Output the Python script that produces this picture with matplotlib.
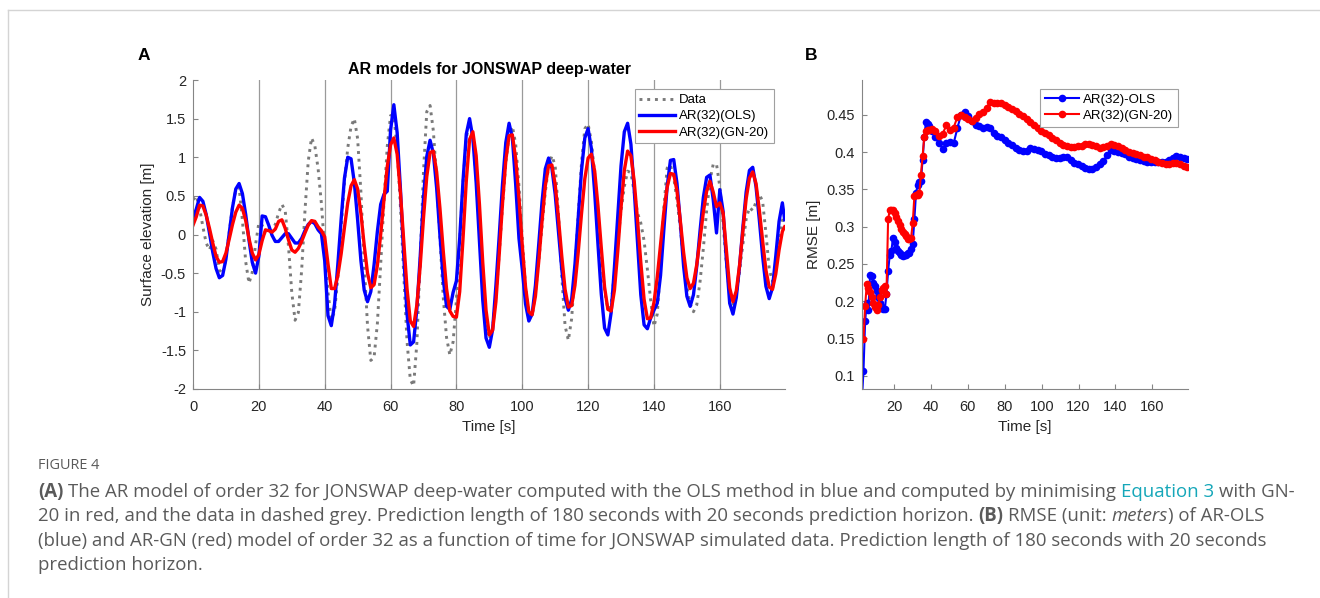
import numpy as np
import matplotlib
matplotlib.use("Agg")
import matplotlib.pyplot as plt
from matplotlib import font_manager
from matplotlib.lines import Line2D
from matplotlib.ticker import FormatStrFormatter, MultipleLocator

W, H = 1320, 598

# ---- panel A: surface elevation (1 s samples, last point at 179.7 s)
time_a = np.append(np.arange(0, 180), 179.7)

data_a = [
    0.45, 0.50, 0.34, 0.10, -0.11, -0.20, -0.08, -0.19, -0.46, -0.51,
    -0.31, 0.02, 0.36, 0.58, 0.61, 0.19, -0.35, -0.63, -0.49, -0.13,
    0.15, 0.12, 0.02, 0.01, 0.06, 0.13, 0.28, 0.39, 0.31, -0.15,
    -0.75, -1.11, -1.01, -0.46, 0.30, 0.95, 1.25, 1.15, 0.85, 0.40,
    -0.20, -0.75, -1.10, -1.00, -0.55, 0.10, 0.68, 1.12, 1.40, 1.50,
    1.24, 0.55, -0.37, -1.18, -1.63, -1.59, -1.15, -0.39, 0.42, 1.14,
    1.54, 1.54, 1.11, 0.36, -0.52, -1.38, -1.88, -1.96, -1.40, -0.33,
    0.81, 1.59, 1.67, 1.34, 0.72, -0.04, -0.81, -1.33, -1.56, -1.39,
    -0.85, -0.10, 0.67, 1.25, 1.45, 1.26, 0.75, 0.05, -0.65, -1.16,
    -1.35, -1.21, -0.81, -0.25, 0.36, 0.92, 1.29, 1.40, 1.17, 0.63,
    -0.05, -0.68, -1.05, -1.05, -0.75, -0.35, 0.10, 0.55, 0.88, 1.02,
    0.89, 0.26, -0.54, -1.18, -1.37, -1.09, -0.47, 0.26, 0.93, 1.37,
    1.43, 1.20, 0.78, 0.26, -0.29, -0.72, -0.97, -0.90, -0.50, -0.10,
    0.30, 0.62, 0.82, 0.80, 0.55, 0.28, 0.15, -0.08, -0.45, -0.85,
    -1.19, -1.03, -0.42, 0.34, 0.86, 0.90, 0.74, 0.44, 0.08, -0.31,
    -0.67, -0.90, -1.00, -0.91, -0.61, -0.18, 0.31, 0.70, 0.91, 0.91,
    0.62, 0.14, -0.38, -0.77, -0.90, -0.78, -0.48, -0.13, 0.20, 0.35,
    0.31, 0.42, 0.52, 0.43, 0.02, -0.44, -0.61, -0.44, -0.11, 0.18,
    0.25,
]

ols_a = [
    0.21, 0.33, 0.48, 0.43, 0.26, 0.02, -0.23, -0.44, -0.56, -0.53,
    -0.32, 0.01, 0.35, 0.59, 0.66, 0.53, 0.26, -0.07, -0.36, -0.50,
    -0.28, 0.24, 0.23, 0.12, -0.01, -0.09, -0.09, -0.04, 0.01, 0.01,
    -0.05, -0.11, -0.11, -0.05, 0.05, 0.13, 0.17, 0.14, 0.06, 0.01,
    -0.34, -1.05, -1.18, -0.90, -0.38, 0.20, 0.73, 1.00, 0.98, 0.67,
    0.19, -0.34, -0.72, -0.87, -0.74, -0.39, 0.04, 0.39, 0.52, 0.56,
    1.35, 1.68, 1.32, 0.59, -0.27, -1.03, -1.43, -1.39, -0.96, -0.29,
    0.47, 1.01, 1.22, 1.05, 0.60, -0.01, -0.58, -0.93, -0.97, -0.75,
    -0.60, -0.05, 0.69, 1.30, 1.50, 1.25, 0.67, -0.10, -0.85, -1.34,
    -1.46, -1.23, -0.66, -0.02, 0.65, 1.19, 1.44, 1.25, 0.65, -0.05,
    -0.45, -0.90, -1.12, -1.03, -0.66, -0.13, 0.42, 0.85, 0.99, 0.86,
    0.52, 0.03, -0.45, -0.82, -0.98, -0.84, -0.39, 0.23, 0.83, 1.25,
    1.37, 1.11, 0.54, -0.13, -0.77, -1.21, -1.30, -1.01, -0.42, 0.24,
    0.89, 1.33, 1.44, 1.17, 0.58, -0.11, -0.78, -1.17, -1.22, -1.08,
    -0.98, -0.89, -0.53, 0.06, 0.62, 0.96, 0.97, 0.66, 0.16, -0.41,
    -0.80, -0.93, -0.78, -0.41, 0.05, 0.48, 0.74, 0.77, 0.45, 0.02,
    0.58, 0.30, -0.33, -0.89, -1.03, -0.82, -0.41, 0.09, 0.55, 0.83,
    0.87, 0.62, 0.19, -0.28, -0.67, -0.83, -0.69, -0.28, 0.17, 0.41,
    0.19,
]

gn_a = [
    0.12, 0.23, 0.38, 0.37, 0.25, 0.08, -0.11, -0.28, -0.36, -0.35,
    -0.24, -0.06, 0.13, 0.29, 0.38, 0.34, 0.18, -0.05, -0.24, -0.33,
    -0.26, -0.08, 0.06, 0.05, 0.03, 0.07, 0.17, 0.19, 0.08, -0.07,
    -0.20, -0.23, -0.18, -0.09, 0.02, 0.12, 0.18, 0.17, 0.10, 0.05,
    -0.03, -0.38, -0.70, -0.70, -0.53, -0.25, 0.09, 0.41, 0.63, 0.71,
    0.59, 0.27, -0.14, -0.50, -0.69, -0.65, -0.40, 0.00, 0.45, 0.88,
    1.16, 1.25, 1.04, 0.54, -0.09, -0.70, -1.12, -1.19, -0.91, -0.41,
    0.21, 0.75, 1.06, 1.08, 0.81, 0.34, -0.21, -0.70, -0.99, -1.06,
    -1.07, -0.74, -0.06, 0.69, 1.23, 1.33, 1.02, 0.39, -0.36, -0.98,
    -1.30, -1.24, -0.87, -0.26, 0.40, 0.96, 1.28, 1.29, 0.98, 0.47,
    -0.14, -0.68, -1.00, -1.04, -0.80, -0.35, 0.17, 0.63, 0.89, 0.90,
    0.65, 0.21, -0.28, -0.71, -0.94, -0.92, -0.66, -0.23, 0.27, 0.72,
    0.99, 1.04, 0.82, 0.37, -0.17, -0.68, -0.97, -0.99, -0.72, -0.22,
    0.35, 0.83, 1.08, 1.02, 0.69, 0.19, -0.36, -0.84, -1.09, -1.08,
    -0.88, -0.55, -0.13, 0.29, 0.61, 0.79, 0.78, 0.56, 0.18, -0.23,
    -0.56, -0.70, -0.63, -0.39, -0.06, 0.29, 0.56, 0.69, 0.55, 0.36,
    0.41, 0.28, -0.20, -0.69, -0.87, -0.73, -0.40, 0.04, 0.46, 0.73,
    0.81, 0.66, 0.32, -0.08, -0.46, -0.68, -0.71, -0.51, -0.20, 0.04,
    0.10,
]

horizons = [20, 40, 60, 80, 100, 120, 140, 160]

# ---- panel B: RMSE over time
rmse_time = np.concatenate([3.4 + 0.89 * np.arange(41), 40.4 + 1.98 * np.arange(71)])
ols_start = (2.6, 0.07)

ols_rmse = [
    0.106, 0.173, 0.197, 0.188, 0.235, 0.234, 0.225, 0.220, 0.213, 0.205,
    0.198, 0.192, 0.190, 0.189, 0.210, 0.240, 0.262, 0.268, 0.285, 0.280,
    0.272, 0.268, 0.264, 0.262, 0.261, 0.262, 0.262, 0.264, 0.265, 0.270,
    0.277, 0.310, 0.345, 0.356, 0.360, 0.362, 0.390, 0.420, 0.440, 0.438,
    0.435,
    0.428, 0.420, 0.412, 0.405, 0.412, 0.414, 0.412, 0.432, 0.450, 0.454,
    0.448, 0.442, 0.437, 0.435, 0.432, 0.434, 0.432, 0.426, 0.422, 0.420,
    0.416, 0.413, 0.410, 0.406, 0.403, 0.401, 0.401, 0.406, 0.405, 0.403,
    0.402, 0.398, 0.396, 0.394, 0.392, 0.392, 0.393, 0.393, 0.390, 0.386,
    0.384, 0.381, 0.379, 0.378, 0.378, 0.380, 0.384, 0.388, 0.396, 0.403,
    0.402, 0.400, 0.399, 0.397, 0.394, 0.392, 0.391, 0.389, 0.388, 0.387,
    0.387, 0.387, 0.387, 0.387, 0.387, 0.389, 0.392, 0.395, 0.394, 0.392,
    0.391,
]

gn_rmse = [
    0.149, 0.193, 0.223, 0.218, 0.212, 0.205, 0.198, 0.192, 0.188, 0.195,
    0.205, 0.215, 0.218, 0.220, 0.210, 0.310, 0.322, 0.323, 0.322, 0.319,
    0.313, 0.307, 0.302, 0.297, 0.293, 0.290, 0.287, 0.284, 0.283, 0.285,
    0.305, 0.341, 0.343, 0.343, 0.345, 0.370, 0.395, 0.420, 0.428, 0.430,
    0.430,
    0.431, 0.428, 0.422, 0.425, 0.436, 0.430, 0.433, 0.447, 0.450, 0.447,
    0.444, 0.442, 0.446, 0.451, 0.454, 0.460, 0.467, 0.466, 0.466, 0.466,
    0.464, 0.461, 0.458, 0.455, 0.452, 0.448, 0.445, 0.441, 0.437, 0.433,
    0.429, 0.426, 0.423, 0.419, 0.416, 0.413, 0.410, 0.408, 0.407, 0.407,
    0.408, 0.409, 0.411, 0.411, 0.410, 0.408, 0.406, 0.407, 0.409, 0.411,
    0.410, 0.408, 0.406, 0.403, 0.400, 0.399, 0.397, 0.396, 0.394, 0.393,
    0.391, 0.389, 0.387, 0.385, 0.384, 0.384, 0.385, 0.385, 0.384, 0.382,
    0.380,
]

plt.rcParams["font.family"] = ["Liberation Sans", "DejaVu Sans"]
plt.rcParams["axes.unicode_minus"] = False

fig = plt.figure(figsize=(W / 100, H / 100), dpi=100)
fig.patch.set_facecolor("white")

AXC = "#858585"
TXT = "#262626"


def style_axes(ax):
    for side in ("top", "right"):
        ax.spines[side].set_visible(False)
    for side in ("left", "bottom"):
        ax.spines[side].set_color(AXC)
        ax.spines[side].set_linewidth(0.8)
    ax.tick_params(direction="in", length=3.5, width=0.8, color=AXC,
                   labelcolor=TXT, labelsize=10.5)
    ax.tick_params(axis="x", pad=8)
    ax.tick_params(axis="y", pad=5)


# ---- panel A
axA = fig.add_axes([193 / W, 1 - 389 / H, 592 / W, 309 / H])
for h in horizons:
    axA.axvline(h, color="#9a9a9a", lw=0.9, zorder=0.5)
axA.plot(time_a, data_a, ls=":", color="#7a7a7a", lw=2.1, label="Data")
axA.plot(time_a, ols_a, color="#0000ff", lw=2.4, label="AR(32)(OLS)")
axA.plot(time_a, gn_a, color="#ff0000", lw=2.4, label="AR(32)(GN-20)")
axA.set_xlim(0, 179.8)
axA.set_ylim(-2, 2)
axA.xaxis.set_major_locator(MultipleLocator(20))
axA.yaxis.set_major_locator(MultipleLocator(0.5))
axA.yaxis.set_major_formatter(FormatStrFormatter("%g"))
style_axes(axA)
axA.set_xlabel("Time [s]", fontsize=11, color=TXT, labelpad=4)
axA.set_ylabel("Surface elevation [m]", fontsize=11, color=TXT, labelpad=4)
axA.set_title("AR models for JONSWAP deep-water", fontsize=11.5,
              fontweight="bold", color="black", pad=4)
legA = axA.legend(loc="upper right", bbox_to_anchor=(0.981, 0.970),
                  borderaxespad=0, fontsize=9.5, handlelength=2.7,
                  handletextpad=0.3, labelspacing=0.3, borderpad=0.35,
                  fancybox=False, framealpha=1, edgecolor="#a0a0a0")
legA.get_frame().set_linewidth(0.8)

# ---- panel B
axB = fig.add_axes([862 / W, 1 - 389 / H, 326 / W, 309 / H])
axB.plot(np.append(ols_start[0], rmse_time), np.append(ols_start[1], ols_rmse),
         color="#0000ff", lw=1.5, marker="o", ms=5.5, mew=0, label="AR(32)-OLS")
axB.plot(rmse_time, gn_rmse, color="#ff0000", lw=1.5, marker="o", ms=5.5,
         mew=0, label="AR(32)(GN-20)")
axB.set_xlim(2.6, 179.3)
axB.set_ylim(0.082, 0.497)
axB.xaxis.set_major_locator(MultipleLocator(20))
axB.yaxis.set_major_locator(MultipleLocator(0.05))
axB.yaxis.set_major_formatter(FormatStrFormatter("%g"))
style_axes(axB)
axB.set_xlabel("Time [s]", fontsize=11, color=TXT, labelpad=4)
axB.set_ylabel("RMSE [m]", fontsize=11, color=TXT, labelpad=4)
legB = axB.legend(loc="upper right", bbox_to_anchor=(0.969, 0.971),
                  borderaxespad=0, fontsize=9.5, handlelength=2.6,
                  handletextpad=0.3, labelspacing=0.3, borderpad=0.35,
                  numpoints=1, fancybox=False, framealpha=1,
                  edgecolor="#a0a0a0")
legB.get_frame().set_linewidth(0.8)

# panel letters
fig.text(138 / W, 1 - 60 / H, "A", fontsize=12.5, fontweight="bold", va="baseline")
fig.text(805 / W, 1 - 60 / H, "B", fontsize=12.5, fontweight="bold", va="baseline")

# page frame
fig.add_artist(Line2D([8 / W, 1], [1 - 10 / H, 1 - 10 / H], color="#d4d4d4", lw=1))
fig.add_artist(Line2D([8 / W, 8 / W], [0, 1 - 10 / H], color="#d4d4d4", lw=1))

# ---- caption
names = {f.name for f in font_manager.fontManager.ttflist}
cap_family = "Liberation Sans Narrow" if "Liberation Sans Narrow" in names else "Open Sans"
CAP = "#5a5a5a"
TEAL = "#15a7b9"

renderer = fig.canvas.get_renderer()


def text_width(s, size, **kw):
    t = fig.text(0, 0, s, fontsize=size, family=cap_family, **kw)
    w = t.get_window_extent(renderer).width
    t.remove()
    return w


line1_plain = ("(A) The AR model of order 32 for JONSWAP deep-water computed with the "
               "OLS method in blue and computed by minimising Equation 3 with GN-")
cap_size = 10 * (1290 - 38) / text_width(line1_plain, 10)
space_w = text_width("a a", cap_size) - text_width("aa", cap_size)

caption_lines = [
    [("(A)", {"fontweight": "bold"}),
     (" The AR model of order 32 for JONSWAP deep-water computed with the OLS "
      "method in blue and computed by minimising", {}),
     (" Equation 3", {"color": TEAL}),
     (" with GN-", {})],
    [("20 in red, and the data in dashed grey. Prediction length of 180 seconds "
      "with 20 seconds prediction horizon.", {}),
     (" (B)", {"fontweight": "bold"}),
     (" RMSE (unit:", {}),
     (" meters", {"fontstyle": "italic"}),
     (") of AR-OLS", {})],
    [("(blue) and AR-GN (red) model of order 32 as a function of time for JONSWAP "
      "simulated data. Prediction length of 180 seconds with 20 seconds", {})],
    [("prediction horizon.", {})],
]
caption_baselines = [497, 521, 546, 570]

fig.text(38 / W, 1 - 469 / H, "FIGURE 4", fontsize=cap_size * 0.78,
         family=cap_family, color=CAP, va="baseline")

for runs, yb in zip(caption_lines, caption_baselines):
    x = 38.0
    for s, kw in runs:
        if s.startswith(" "):
            x += space_w
            s = s[1:]
        style = {"color": CAP}
        style.update(kw)
        t = fig.text(x / W, 1 - yb / H, s, fontsize=cap_size, family=cap_family,
                     va="baseline", ha="left", **style)
        x += t.get_window_extent(renderer).width

fig.savefig("out.png", dpi=100, facecolor="white")
